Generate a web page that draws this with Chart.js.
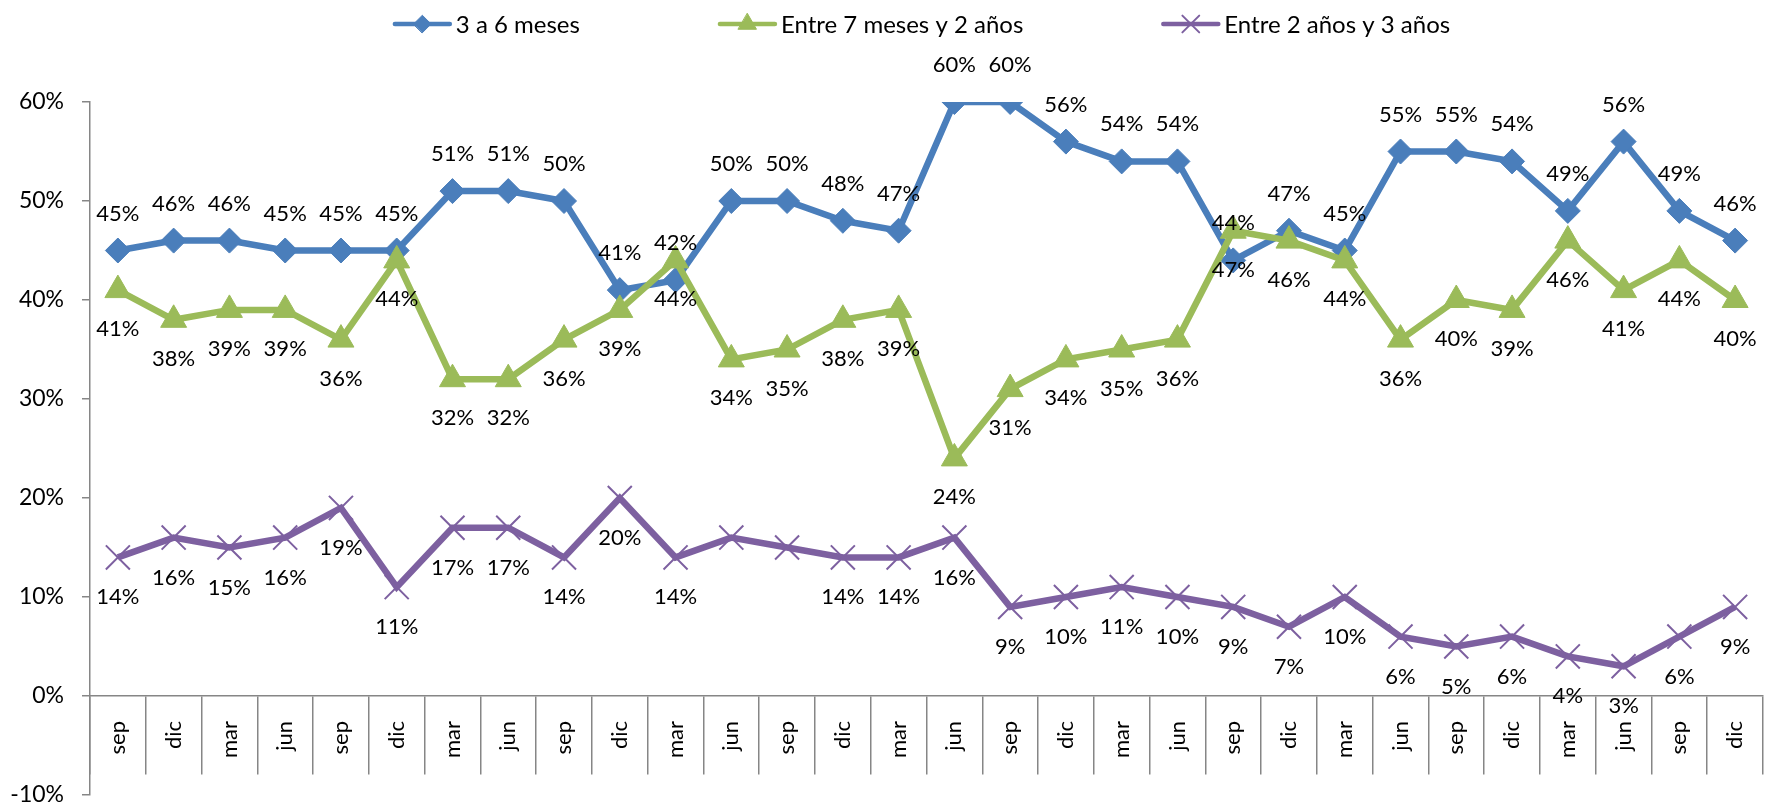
<!DOCTYPE html>
<html>
<head>
<meta charset="utf-8">
<script src="https://cdn.jsdelivr.net/npm/chart.js@4.4.0/dist/chart.umd.min.js"></script>
<style>
  html, body { margin: 0; padding: 0; background: #fff; overflow: hidden; }
  #wrap { width: 1782px; height: 814px; }
</style>
</head>
<body>
<div id="wrap"><canvas id="chart"></canvas></div>
<script>
// categories (quarters)
const categories = ['sep', 'dic', 'mar', 'jun', 'sep', 'dic', 'mar', 'jun', 'sep', 'dic',
                    'mar', 'jun', 'sep', 'dic', 'mar', 'jun', 'sep', 'dic', 'mar', 'jun',
                    'sep', 'dic', 'mar', 'jun', 'sep', 'dic', 'mar', 'jun', 'sep', 'dic'];

// series values in %
const tresASeisMeses = [45, 46, 46, 45, 45, 45, 51, 51, 50, 41, 42, 50, 50, 48, 47, 60, 60, 56, 54, 54,
                        44, 47, 45, 55, 55, 54, 49, 56, 49, 46];
const sieteMesesDosAnos = [41, 38, 39, 39, 36, 44, 32, 32, 36, 39, 44, 34, 35, 38, 39, 24, 31, 34, 35, 36,
                           47, 46, 44, 36, 40, 39, 46, 41, 44, 40];
const dosTresAnos = [14, 16, 15, 16, 19, 11, 17, 17, 14, 20, 14, 16, 15, 14, 14, 16, 9, 10, 11, 10,
                     9, 7, 10, 6, 5, 6, 4, 3, 6, 9];

// points of the purple series that carry no label in the original
const dosTresSinEtiqueta = [11, 12];

// y axis range / step
const yMin = -10;
const yMax = 60;
const yStep = 10;

const FONT = 'Lato';
const AXIS_GREY = '#868686';

// value labels above or below each point
const dataLabels = {
  id: 'dataLabels',
  afterDatasetsDraw(chart) {
    const ctx = chart.ctx;
    ctx.save();
    ctx.font = '22px ' + FONT;
    ctx.fillStyle = '#000';
    ctx.textAlign = 'center';
    ctx.textBaseline = 'middle';
    chart.data.datasets.forEach((ds, i) => {
      const meta = chart.getDatasetMeta(i);
      meta.data.forEach((pt, j) => {
        if (ds.skipLabels && ds.skipLabels.includes(j)) return;
        ctx.fillText(ds.data[j] + '%', pt.x, pt.y + ds.labelOffset);
      });
    });
    ctx.restore();
  }
};

// Excel style legend: line with marker, then text
const lineLegend = {
  id: 'lineLegend',
  afterDraw(chart) {
    const ctx = chart.ctx;
    const area = chart.chartArea;
    const lineLen = 55, textGap = 6, itemGap = 140, y = 24;
    ctx.save();
    ctx.font = '24px ' + FONT;
    const items = chart.data.datasets.map(ds => ({ ds, w: lineLen + textGap + ctx.measureText(ds.label).width }));
    const total = items.reduce((s, it) => s + it.w, 0) + itemGap * (items.length - 1);
    let x = (area.left + area.right) / 2 - total / 2 - 4;
    items.forEach(({ ds, w }) => {
      ctx.strokeStyle = ds.borderColor;
      ctx.lineWidth = 4.5;
      ctx.lineCap = 'round';
      ctx.beginPath();
      ctx.moveTo(x, y);
      ctx.lineTo(x + lineLen, y);
      ctx.stroke();
      ctx.fillStyle = ds.backgroundColor;
      ctx.strokeStyle = ds.pointBorderColor;
      ctx.lineWidth = ds.pointBorderWidth;
      Chart.helpers.drawPoint(ctx, {
        pointStyle: ds.pointStyle, radius: ds.pointRadius * 0.7,
        borderWidth: ds.pointBorderWidth, rotation: 0
      }, x + lineLen / 2, y);
      ctx.fillStyle = '#000';
      ctx.textAlign = 'left';
      ctx.textBaseline = 'middle';
      ctx.fillText(ds.label, x + lineLen + textGap, y + 1);
      x += w + itemGap;
    });
    ctx.restore();
  }
};

new Chart(document.getElementById('chart'), {
  type: 'line',
  data: {
    labels: categories,
    datasets: [
      {
        label: '3 a 6 meses',
        data: tresASeisMeses,
        borderColor: '#4A7EBB',
        backgroundColor: '#4A7EBB',
        pointBorderColor: '#4A7EBB',
        borderWidth: 6.5,
        pointStyle: 'rectRot',
        pointRadius: 12.5,
        pointBorderWidth: 1,
        tension: 0,
        order: 3,
        labelOffset: -37
      },
      {
        label: 'Entre 7 meses y 2 años',
        data: sieteMesesDosAnos,
        borderColor: '#9BBB59',
        backgroundColor: '#9BBB59',
        pointBorderColor: '#9BBB59',
        borderWidth: 6.5,
        pointStyle: 'triangle',
        pointRadius: 15,
        pointBorderWidth: 1,
        tension: 0,
        order: 2,
        labelOffset: 39
      },
      {
        label: 'Entre 2 años y 3 años',
        data: dosTresAnos,
        borderColor: '#7D60A0',
        backgroundColor: '#7D60A0',
        pointBorderColor: '#7D60A0',
        borderWidth: 6.5,
        pointStyle: 'crossRot',
        pointRadius: 17,
        pointBorderWidth: 2,
        tension: 0,
        order: 1,
        labelOffset: 40,
        skipLabels: dosTresSinEtiqueta
      }
    ]
  },
  options: {
    responsive: true,
    maintainAspectRatio: false,
    animation: false,
    layout: { padding: { top: 102, bottom: 8, left: 0, right: 0 } },
    plugins: {
      legend: { display: false },
      tooltip: { enabled: false }
    },
    scales: {
      x: {
        type: 'category',
        offset: true,
        position: { y: 0 },
        grid: { offset: true, drawOnChartArea: false, drawTicks: true, tickLength: 78, color: AXIS_GREY, lineWidth: 1.5 },
        border: { display: true, color: AXIS_GREY, width: 1.5 },
        ticks: {
          autoSkip: false, maxRotation: 90, minRotation: 90, padding: -53,
          color: '#000', font: { family: FONT, size: 22 }
        }
      },
      y: {
        min: yMin,
        max: yMax,
        ticks: {
          stepSize: yStep, padding: 18, color: '#000',
          font: { family: FONT, size: 23 },
          callback: v => v + '%'
        },
        grid: { drawOnChartArea: false, drawTicks: true, tickLength: 8, color: AXIS_GREY, lineWidth: 1.5 },
        border: { display: true, color: AXIS_GREY, width: 1.5 },
        afterFit(scale) {
          scale.width = 90;
          scale.paddingTop = 0;
          scale.paddingBottom = 0;
        }
      }
    }
  },
  plugins: [dataLabels, lineLegend]
});
</script>
</body>
</html>
